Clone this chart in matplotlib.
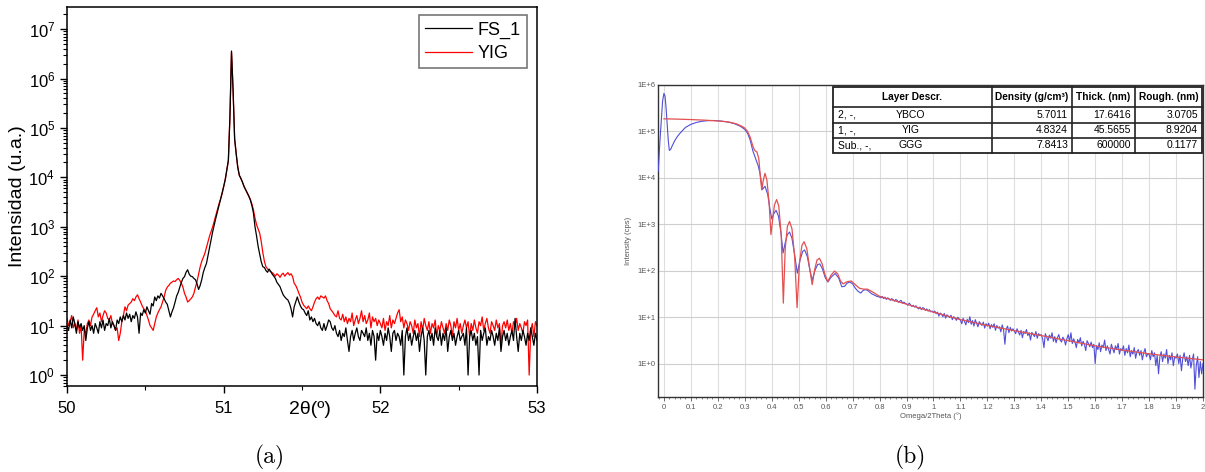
import numpy as np
import matplotlib
matplotlib.use('Agg')
import matplotlib.pyplot as plt
from matplotlib.patches import Rectangle
from matplotlib.lines import Line2D
from matplotlib.ticker import LogLocator, FixedLocator, MultipleLocator, NullFormatter

plt.rcParams['font.family'] = ['Liberation Sans', 'DejaVu Sans']
plt.rcParams['mathtext.fontset'] = 'custom'
plt.rcParams['mathtext.rm'] = 'Liberation Sans'
plt.rcParams['mathtext.it'] = 'Liberation Sans:italic'
plt.rcParams['mathtext.bf'] = 'Liberation Sans:bold'

# ---------------- (a) XRD scan, 2theta from 50 deg in 0.01 deg steps ----------------
theta_start, theta_step = 50.0, 0.01

fs1_counts = [
    10, 8, 13, 9, 15, 11, 7, 12, 9, 11,
    8, 10, 5, 9, 12, 8, 10, 7, 11, 9,
    7, 12, 9, 13, 8, 11, 10, 14, 9, 12,
    10, 8, 13, 11, 15, 12, 16, 13, 18, 14,
    17, 12, 16, 14, 19, 15, 7, 18, 16, 21,
    18, 24, 20, 17, 28, 25, 38, 32, 40, 36,
    45, 40, 35, 30, 27, 20, 15, 19, 23, 30,
    40, 47, 60, 75, 90, 98, 120, 135, 110, 100,
    98, 90, 85, 70, 54, 65, 85, 120, 150, 180,
    260, 380, 540, 800, 1100, 1500, 2000, 2700, 3500, 4800,
    6500, 9000, 14000, 22000, 170000, 3600000, 600000, 60000, 30000, 16000,
    11000, 9500, 8000, 6500, 5600, 4800, 4200, 3500, 2700, 1900,
    1000, 650, 400, 280, 195, 155, 150, 130, 120, 140,
    125, 110, 100, 90, 75, 68, 61, 50, 42, 38,
    35, 33, 28, 22, 15, 24, 30, 38, 30, 25,
    22, 21, 18, 16, 20, 13, 15, 12, 14, 11,
    10, 12, 9, 8, 11, 8, 10, 13, 12, 9,
    8, 10, 7, 6, 8, 5, 7, 6, 9, 5,
    3, 6, 8, 5, 7, 9, 6, 5, 8, 7,
    6, 9, 5, 7, 4, 8, 6, 2, 7, 5,
    8, 6, 4, 7, 5, 9, 6, 3, 7, 8,
    5, 7, 6, 4, 8, 1, 6, 9, 5, 7,
    4, 6, 8, 5, 7, 3, 6, 9, 5, 1,
    6, 8, 5, 7, 4, 9, 6, 5, 8, 4,
    7, 5, 9, 3, 6, 8, 5, 7, 4, 6,
    8, 5, 6, 7, 4, 9, 1, 6, 8, 5,
    7, 4, 6, 1, 8, 5, 7, 9, 4, 6,
    5, 8, 6, 4, 7, 5, 9, 3, 6, 8,
    5, 7, 4, 6, 8, 5, 14, 6, 3, 7,
    5, 8, 6, 4, 7, 5, 9, 6, 4, 7,
    5,
]

yig_counts = [
    14, 10, 12, 16, 9, 11, 8, 13, 7, 10,
    2, 8, 7, 11, 13, 10, 15, 17, 20, 23,
    15, 18, 12, 16, 20, 18, 14, 13, 16, 11,
    10, 8, 9, 5, 7, 12, 16, 24, 20, 26,
    28, 30, 35, 32, 38, 42, 35, 30, 25, 22,
    20, 16, 13, 10, 9, 8, 11, 15, 18, 21,
    24, 30, 38, 52, 60, 65, 72, 76, 80, 78,
    85, 90, 82, 72, 60, 45, 38, 30, 32, 35,
    38, 45, 60, 78, 110, 155, 200, 240, 290, 380,
    500, 650, 800, 1000, 1300, 1700, 2200, 2900, 3600, 4700,
    6500, 9000, 14000, 22000, 170000, 3400000, 580000, 60000, 30000, 16000,
    11000, 9500, 8000, 6600, 5700, 4900, 4200, 3600, 2900, 2200,
    1500, 1100, 900, 740, 500, 300, 200, 155, 140, 130,
    124, 118, 110, 100, 112, 105, 95, 108, 115, 100,
    110, 118, 105, 112, 98, 72, 65, 55, 45, 38,
    30, 26, 24, 22, 25, 22, 20, 24, 30, 35,
    38, 34, 40, 38, 36, 40, 32, 28, 22, 20,
    18, 16, 15, 20, 14, 13, 17, 12, 15, 11,
    14, 12, 18, 10, 13, 16, 11, 14, 20, 12,
    16, 11, 13, 18, 9, 15, 12, 14, 10, 13,
    11, 9, 14, 8, 12, 10, 16, 9, 13, 11,
    14, 18, 21, 12, 15, 9, 13, 11, 8, 12,
    10, 7, 13, 9, 11, 6, 12, 8, 14, 10,
    8, 12, 7, 11, 9, 13, 6, 10, 8, 12,
    9, 7, 11, 8, 13, 10, 6, 12, 9, 14,
    8, 11, 7, 10, 13, 9, 12, 6, 11, 8,
    13, 9, 7, 12, 10, 15, 8, 11, 14, 9,
    7, 12, 10, 8, 13, 9, 11, 4, 10, 12,
    9, 13, 8, 11, 7, 12, 10, 14, 8, 11,
    9, 7, 12, 10, 13, 1, 8, 11, 6, 12,
    10,
]

series_a = ['FS_1', 'YIG']

# ---------------- (b) XRR measurement and fit ----------------
meas_head_theta = [-0.021, -0.015, -0.01, -0.005, 0.0, 0.004, 0.008, 0.012, 0.016, 0.02,
                   0.025, 0.03, 0.04, 0.05, 0.06, 0.08, 0.1, 0.12, 0.14, 0.16,
                   0.18, 0.2, 0.22, 0.24, 0.26, 0.28, 0.29, 0.3, 0.31, 0.32,
                   0.33, 0.34, 0.35, 0.357, 0.365, 0.375, 0.385, 0.393, 0.4, 0.408,
                   0.416, 0.425, 0.435, 0.442, 0.45, 0.458, 0.466, 0.475, 0.485, 0.495,
                   0.505, 0.515, 0.522, 0.532, 0.542, 0.55, 0.56, 0.57, 0.578, 0.588,
                   0.598, 0.608, 0.62, 0.635, 0.648, 0.66, 0.67, 0.68, 0.69, 0.7,
                   0.71, 0.72, 0.73, 0.74, 0.75, 0.76, 0.77, 0.78, 0.79]
meas_head = [14000, 60000, 160000, 450000, 660000, 580000, 320000, 140000, 65000, 39000,
             41000, 48000, 63000, 78000, 92000, 122000, 142000, 156000, 165000, 170000,
             172000, 170000, 165000, 158000, 148000, 132000, 122000, 110000, 92000, 65000,
             38000, 26000, 18000, 12000, 5600, 6600, 4400, 2200, 1300, 1700,
             2000, 1500, 600, 240, 400, 600, 680, 500, 220, 88,
             170, 260, 280, 200, 100, 62, 100, 135, 140, 110,
             72, 57, 72, 87, 70, 45, 46, 54, 57, 52,
             42, 36, 33, 38, 39, 36, 32, 30, 28]

# noisy tail from 0.80 deg in 0.005 deg steps
tail_start, tail_step = 0.80, 0.005
meas_tail = [
    27, 26, 28, 25, 27, 24, 26, 25, 23, 25, 24, 22, 24, 23, 21, 22, 23, 20, 21, 20,
    19, 18, 20, 18.5, 17, 18, 16.5, 17.5, 16, 15, 16.5, 14.5, 16, 15.5, 14, 15, 13.5, 14.5, 13, 13.5,
    12.5, 13.5, 11.8, 12.8, 10.5, 12.2, 11.5, 10.2, 12, 9.5, 11.2, 10.5, 9.8, 11, 8.8, 10.2, 9.6, 8.5, 9.9, 9.2,
    8.6, 7.2, 9.4, 8.2, 6.8, 9.0, 7.6, 10.2, 7.0, 8.4, 6.4, 8.8, 7.4, 6.2, 8.0, 7.2, 6.6, 7.8, 5.8, 7.2,
    6.4, 7.4, 5.6, 6.9, 6.0, 7.2, 5.2, 6.6, 5.8, 6.2, 4.8, 6.8, 5.4, 2.6, 5.6, 6.4, 4.6, 6.0, 5.0, 5.6,
    5.0, 4.4, 5.6, 4.8, 4.1, 5.2, 3.6, 4.9, 4.4, 5.4, 4.0, 4.6, 3.2, 4.7, 4.2, 3.8, 4.9, 3.5, 4.4, 4.0,
    4.2, 3.4, 2.2, 4.4, 3.7, 3.1, 4.1, 3.5, 4.6, 3.0, 3.8, 2.8, 3.6, 4.2, 3.2, 2.9, 3.7, 3.3, 2.5, 3.4,
    4.2, 3.0, 4.6, 2.7, 3.4, 2.9, 2.2, 3.3, 2.8, 3.6, 2.4, 3.0, 2.6, 1.9, 3.1, 2.7, 2.3, 2.9, 2.2, 2.6,
    1.0, 2.4, 2.0, 2.8, 1.8, 2.5, 2.2, 3.2, 1.9, 2.4, 2.0, 1.6, 2.6, 2.1, 1.7, 2.4, 2.0, 2.7, 1.6, 2.1,
    1.9, 2.4, 1.5, 2.1, 1.7, 2.5, 1.4, 1.9, 1.6, 2.2, 1.3, 1.8, 2.0, 1.5, 1.9, 1.2, 1.7, 2.1, 1.4, 1.6,
    1.6, 1.2, 1.9, 1.4, 1.7, 0.9, 1.5, 0.6, 1.4, 1.8, 1.1, 1.6, 1.3, 2.0, 1.0, 1.5, 1.2, 1.7, 0.9, 1.4,
    1.3, 1.6, 1.0, 1.5, 0.7, 1.3, 1.7, 1.1, 1.4, 0.9, 1.5, 0.8, 1.2, 1.6, 0.28, 0.9, 1.4, 0.5, 1.1, 0.6,
    1.0,
]

fit_theta = [0.0, 0.05, 0.1, 0.15, 0.2, 0.24, 0.27, 0.29, 0.3, 0.31,
             0.32, 0.33, 0.337, 0.345, 0.352, 0.358, 0.363, 0.368, 0.375, 0.382,
             0.39, 0.397, 0.403, 0.41, 0.418, 0.426, 0.435, 0.443, 0.45, 0.458,
             0.466, 0.475, 0.485, 0.494, 0.503, 0.512, 0.52, 0.53, 0.54, 0.55,
             0.56, 0.568, 0.577, 0.587, 0.598, 0.608, 0.62, 0.633, 0.645, 0.655,
             0.665, 0.68, 0.695, 0.71, 0.725, 0.74, 0.755, 0.77, 0.8, 0.85,
             0.9, 0.95, 1.0, 1.1, 1.2, 1.3, 1.4, 1.5, 1.6, 1.7,
             1.8, 1.9, 2.0]
fit_counts = [187000, 184000, 180000, 175000, 168000, 160000, 145000, 128000, 118000, 100000,
              75000, 48000, 39000, 36000, 26000, 10000, 5500, 8500, 12500, 9000,
              3000, 600, 1200, 2600, 3400, 2500, 600, 20, 300, 900,
              1150, 800, 200, 16, 150, 350, 420, 300, 120, 50,
              110, 170, 185, 140, 80, 58, 80, 98, 85, 60,
              52, 58, 60, 50, 42, 40, 40, 36, 28, 23,
              19, 15.5, 12.8, 8.8, 6.6, 5.1, 4.0, 3.1, 2.4, 1.95,
              1.62, 1.38, 1.2]

table_header = ['Layer Descr.', 'Density (g/cm³)', 'Thick. (nm)', 'Rough. (nm)']
layer_index = ['2, -,', '1, -,', 'Sub., -,']
layer_name = ['YBCO', 'YIG', 'GGG']
layer_density = ['5.7011', '4.8324', '7.8413']
layer_thick = ['17.6416', '45.5655', '600000']
layer_rough = ['3.0705', '8.9204', '0.1177']

# ---------------- figure ----------------
W, H = 1205, 472
fig = plt.figure(figsize=(W / 100, H / 100), dpi=100)


def fx(px):
    return px / W


def fy(py):
    return 1 - py / H


# --- panel (a) ---
ax = fig.add_axes([fx(67), fy(386), (537 - 67) / W, (386 - 7) / H])
theta_fs1 = theta_start + theta_step * np.arange(len(fs1_counts))
theta_yig = theta_start + theta_step * np.arange(len(yig_counts))
ax.plot(theta_fs1, fs1_counts, color='black', lw=0.9, label=series_a[0], zorder=3)
ax.plot(theta_yig, yig_counts, color='#ff0000', lw=0.9, label=series_a[1], zorder=2)
ax.set_yscale('log')
ax.set_xlim(50, 53)
ax.set_ylim(0.6, 2.8e7)
ax.set_xticks([50, 51, 52, 53])
ax.set_xticklabels(['50', '51', '52', '53'])
ax.xaxis.set_minor_locator(FixedLocator([50.5, 51.5, 52.5]))
ax.yaxis.set_major_locator(LogLocator(base=10, numticks=20))
ax.yaxis.set_minor_locator(LogLocator(base=10, subs=np.arange(2, 10), numticks=20))
ax.yaxis.set_minor_formatter(NullFormatter())
ax.tick_params(axis='both', which='major', labelsize=12, direction='out', length=5, width=1)
ax.tick_params(axis='both', which='minor', direction='out', length=3, width=0.8)
ax.tick_params(axis='x', which='major', pad=6)
for s in ax.spines.values():
    s.set_linewidth(1.1)
ax.set_ylabel('Intensidad (u.a.)', fontsize=14, labelpad=2)
ax.text(51.55, -0.063, '2θ(º)', transform=ax.get_xaxis_transform(),
        ha='center', va='center', fontsize=14)
leg = ax.legend(loc='upper right', bbox_to_anchor=((527 - 67) / 470, 1 - 8 / 379),
                borderaxespad=0, fontsize=13, frameon=True, fancybox=False,
                handlelength=2.6, handletextpad=0.3, labelspacing=0.35,
                borderpad=0.35)
leg.get_frame().set_edgecolor('#555555')
leg.get_frame().set_linewidth(1.2)

fig.text(fx(270), fy(457), '(a)', family='cmr10', fontsize=17, ha='center', va='center')

# --- panel (b) ---
bx = fig.add_axes([fx(658), fy(397), (1203 - 658) / W, (397 - 85) / H])
meas_tail_theta = tail_start + tail_step * np.arange(len(meas_tail))
meas_theta = np.concatenate([meas_head_theta, meas_tail_theta])
meas_counts = np.concatenate([meas_head, meas_tail])
bx.plot(meas_theta, meas_counts, color='#4f4fd8', lw=0.8, zorder=3)
bx.plot(fit_theta, fit_counts, color='#e35050', lw=0.9, zorder=4)
bx.set_yscale('log')
bx.set_xlim(-0.022, 2.0)
bx.set_ylim(0.19, 1e6)
xt = np.round(np.arange(0, 2.001, 0.1), 1)
bx.set_xticks(xt)
bx.set_xticklabels([('%g' % v) for v in xt])
bx.xaxis.set_minor_locator(MultipleLocator(0.02))
bx.set_yticks([1, 10, 100, 1e3, 1e4, 1e5, 1e6])
bx.set_yticklabels(['1E+0', '1E+1', '1E+2', '1E+3', '1E+4', '1E+5', '1E+6'])
bx.yaxis.set_minor_locator(plt.NullLocator())
bx.tick_params(axis='both', which='major', labelsize=5.5, colors='#555555', length=3, width=0.6, pad=2)
bx.tick_params(axis='x', which='minor', length=1.5, width=0.5, color='#555555')
bx.tick_params(axis='y', which='major', length=0)
bx.grid(True, which='major', axis='x', color='#dedede', lw=0.8)
bx.grid(True, which='major', axis='y', color='#cfcfcf', lw=0.8)
bx.set_axisbelow(True)
for s in bx.spines.values():
    s.set_color('#333333')
    s.set_linewidth(1.0)
bx.set_ylabel('Intensity (cps)', fontsize=5.5, color='#555555', labelpad=4)
bx.set_xlabel('Omega/2Theta (°)', fontsize=5.5, color='#555555', labelpad=1)

# layer table, drawn over the plot area
col_x = [833, 992, 1072, 1135, 1202]
row_y = [87, 107, 122.5, 138, 153]
fig.add_artist(Rectangle((fx(col_x[0]), fy(row_y[-1])), (col_x[-1] - col_x[0]) / W,
                         (row_y[-1] - row_y[0]) / H, transform=fig.transFigure,
                         facecolor='white', edgecolor='#222222', lw=1.3, zorder=5))
for cx in col_x[1:-1]:
    fig.add_artist(Line2D([fx(cx), fx(cx)], [fy(row_y[0]), fy(row_y[-1])],
                          transform=fig.transFigure, color='#222222', lw=1.2, zorder=6))
for ry in row_y[1:-1]:
    fig.add_artist(Line2D([fx(col_x[0]), fx(col_x[-1])], [fy(ry), fy(ry)],
                          transform=fig.transFigure, color='#222222', lw=1.2, zorder=6))
for j, htxt in enumerate(table_header):
    fig.text(fx((col_x[j] + col_x[j + 1]) / 2), fy((row_y[0] + row_y[1]) / 2), htxt,
             ha='center', va='center', fontsize=7.3, fontweight='bold', zorder=7)
for i in range(len(layer_index)):
    yc = fy((row_y[i + 1] + row_y[i + 2]) / 2)
    fig.text(fx(col_x[0] + 5), yc, layer_index[i], ha='left', va='center', fontsize=7.5, zorder=7)
    fig.text(fx(911), yc, layer_name[i], ha='center', va='center', fontsize=7.5, zorder=7)
    for j, vals in enumerate([layer_density, layer_thick, layer_rough]):
        fig.text(fx(col_x[j + 2] - 4), yc, vals[i], ha='right', va='center', fontsize=7.5, zorder=7)

fig.text(fx(910), fy(457), '(b)', family='cmr10', fontsize=17, ha='center', va='center')

fig.savefig('out.png', dpi=100)
